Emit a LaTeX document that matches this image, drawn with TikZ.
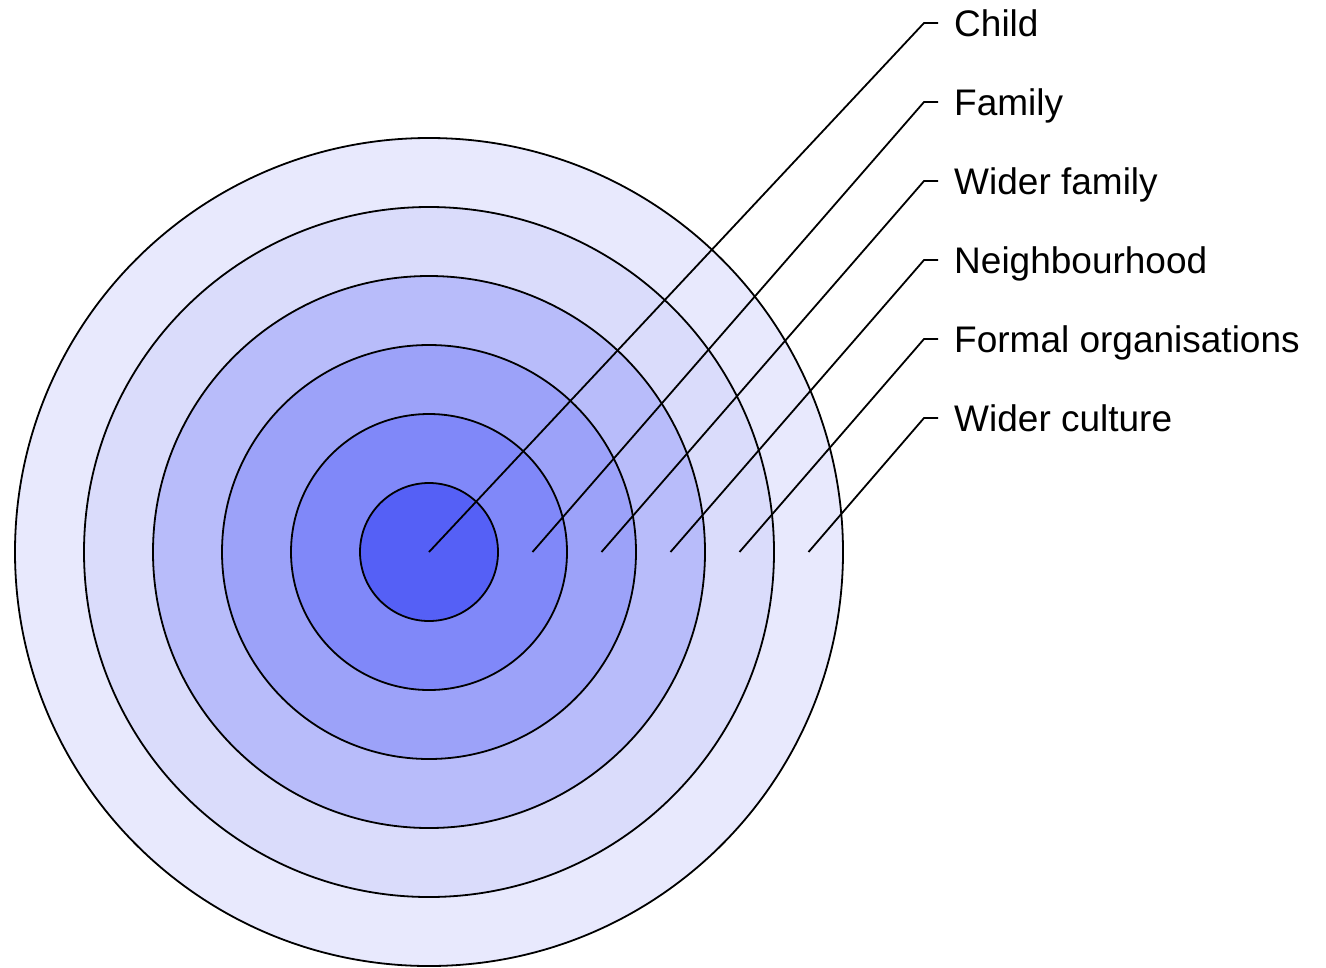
\documentclass[tikz,border=0pt]{standalone}
\usepackage{fontspec}
\setmainfont{Liberation Sans}
\definecolor{ringA}{HTML}{5560F6}
\definecolor{ringB}{HTML}{8088F9}
\definecolor{ringC}{HTML}{9CA2F9}
\definecolor{ringD}{HTML}{B8BCFA}
\definecolor{ringE}{HTML}{DADCFB}
\definecolor{ringF}{HTML}{E8E9FD}
\tikzset{
  ring/.style={circle, draw=black, line width=1.8bp, inner sep=0pt, minimum size=#1},
  leader/.style={draw=black, line width=1.8bp},
  lab/.style={anchor=west, inner xsep=0pt, inner ysep=0pt, text height=26.6bp, text depth=0pt, font=\fontsize{37bp}{40bp}\selectfont}
}
\begin{document}
\begin{tikzpicture}[x=1bp,y=-1bp]
\useasboundingbox (0,0) rectangle (1326,967);
\node[ring=828bp, fill=ringF] (c6) at (429,552) {};
\node[ring=690bp, fill=ringE] (c5) at (429,552) {};
\node[ring=552bp, fill=ringD] (c4) at (429,552) {};
\node[ring=414bp, fill=ringC] (c3) at (429,552) {};
\node[ring=276bp, fill=ringB] (c2) at (429,552) {};
\node[ring=138bp, fill=ringA] (c1) at (429,552) {};
\foreach \i/\sx/\ey/\t in {1/429/23/Child, 2/532.5/102/Family, 3/601.5/181/Wider family, 4/670.5/260/Neighbourhood, 5/739.5/339/Formal organisations, 6/808.5/418/Wider culture}{
  \coordinate (s\i) at (\sx,552);
  \coordinate (e\i) at (924,\ey);
  \coordinate (h\i) at (938,\ey);
  \node[lab] (l\i) at (954,\ey) {\t};
  \draw[leader] (s\i) -- (e\i) -- (h\i);
}
\end{tikzpicture}
\end{document}
